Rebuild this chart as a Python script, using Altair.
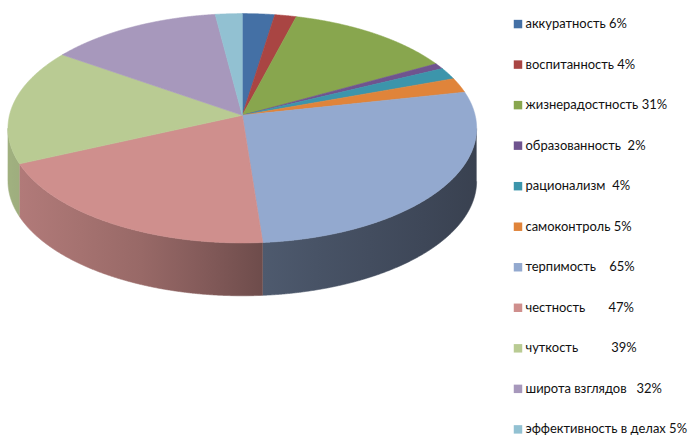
import altair as alt
import numpy as np
import pandas as pd

# ---- data ----
names = ["аккуратность", "воспитанность", "жизнерадостность", "образованность",
         "рационализм", "самоконтроль", "терпимость", "честность", "чуткость",
         "широта взглядов", "эффективность в делах"]
values = [6, 4, 31, 2, 4, 5, 65, 47, 39, 32, 5]
legend_labels = ["аккуратность 6%", "воспитанность 4%", "жизнерадостность 31%",
                 "образованность  2%", "рационализм  4%", "самоконтроль 5%",
                 "терпимость    65%", "честность       47%", "чуткость          39%",
                 "широта взглядов   32%", "эффективность в делах 5%"]
colors = ["#4470a5", "#a94543", "#88a64e", "#6f548f", "#3c95ab", "#e0843a",
          "#93a9cf", "#cf8f8d", "#b9cb93", "#a798bc", "#92c1d2"]

# ---- geometry of the tilted pie (in units of the horizontal radius) ----
UNIT = 235.0
CX, CY = 243.0, 128.0
W_PIE, H = 500, 437
RY = 115 / UNIT
H0 = 13 / UNIT          # perspective offset of the apex
DEPTH = 53 / UNIT
q = H0 / RY


def rim(theta):
    s, c = np.sin(theta), np.cos(theta)
    t = -q * c + np.sqrt(q * q * c * c - q * q + 1)
    return t * s, H0 + RY * c * t


def shade(hexcol, f):
    h = hexcol.lstrip("#")
    r, g, b = (int(h[k:k + 2], 16) for k in (0, 2, 4))
    return "#%02x%02x%02x" % (int(r * f), int(g * f), int(b * f))


def light(x):
    return float(np.interp(x, [-1, -0.4, 0.1, 1], [0.87, 0.73, 0.53, 0.39]))


total = float(sum(values))
top_rows, side_parts = [], []
cum = 0.0
for name, v, col in zip(names, values, colors):
    a0 = 2 * np.pi * cum / total
    a1 = 2 * np.pi * (cum + v) / total
    cum += v
    n = max(3, int(np.degrees(a1 - a0) * 6))
    th = np.linspace(a0, a1, n)
    xs, ys = rim(th)
    pts = [(0.0, H0)] + list(zip(xs, ys)) + [(0.0, H0)]
    for i, (px, py) in enumerate(pts):
        top_rows.append({"name": name, "i": i, "x": px, "y": py})
    mask = ys <= 1e-9
    if mask.sum() >= 2:
        sx, sy = xs[mask], ys[mask]
        poly = list(zip(sx, sy)) + list(zip(sx[::-1], sy[::-1] - DEPTH))
        df = pd.DataFrame([{"name": name, "i": i, "x": px, "y": py}
                           for i, (px, py) in enumerate(poly)])
        xmin, xmax = float(sx.min()), float(sx.max())
        stops = [alt.GradientStop(offset=o, color=shade(col, light(xmin + o * (xmax - xmin))))
                 for o in (0, 0.25, 0.5, 0.75, 1)]
        side_parts.append((df, stops))

top_df = pd.DataFrame(top_rows)

xscale = alt.Scale(domain=[-CX / UNIT, (W_PIE - CX) / UNIT], nice=False, zero=False)
yscale = alt.Scale(domain=[-(H - CY) / UNIT, CY / UNIT], nice=False, zero=False)
enc = dict(
    x=alt.X("x:Q", scale=xscale, axis=None),
    y=alt.Y("y:Q", scale=yscale, axis=None),
    order=alt.Order("i:Q"),
    detail="name:N",
)

layers = []
for df, stops in side_parts:
    grad = alt.Gradient(gradient="linear", stops=stops, x1=0, x2=1, y1=0, y2=0)
    layers.append(alt.Chart(df).mark_line(fill=grad, stroke=grad, strokeWidth=0.6).encode(**enc))

cscale = alt.Scale(domain=names, range=colors)
layers.append(
    alt.Chart(top_df).mark_line(strokeWidth=0.6).encode(
        fill=alt.Fill("name:N", scale=cscale, legend=None),
        stroke=alt.Stroke("name:N", scale=cscale, legend=None),
        **enc)
)
pie = alt.layer(*layers).properties(width=W_PIE, height=H)

# ---- legend ----
leg_df = pd.DataFrame({"name": names,
                       "label": [l.replace(" ", "\u00a0") for l in legend_labels]})
yleg = alt.Y("name:N", sort=names, axis=None,
             scale=alt.Scale(type="point", range=[23.5, 430], padding=0))
squares = alt.Chart(leg_df).mark_square(size=72, opacity=1).encode(
    x=alt.value(19.5), y=yleg,
    color=alt.Color("name:N", scale=cscale, legend=None))
texts = alt.Chart(leg_df).mark_text(align="left", baseline="middle", font="Lato",
                                    fontSize=13, color="#111111").encode(
    x=alt.value(27), y=yleg, text="label:N")
legend = alt.layer(squares, texts).properties(width=688 - W_PIE, height=H)

chart = alt.hconcat(pie, legend, spacing=0).properties(
    padding=0, background="white"
).configure_view(stroke=None)

chart.save("out.html", embed_options={"renderer": "svg", "actions": False})
